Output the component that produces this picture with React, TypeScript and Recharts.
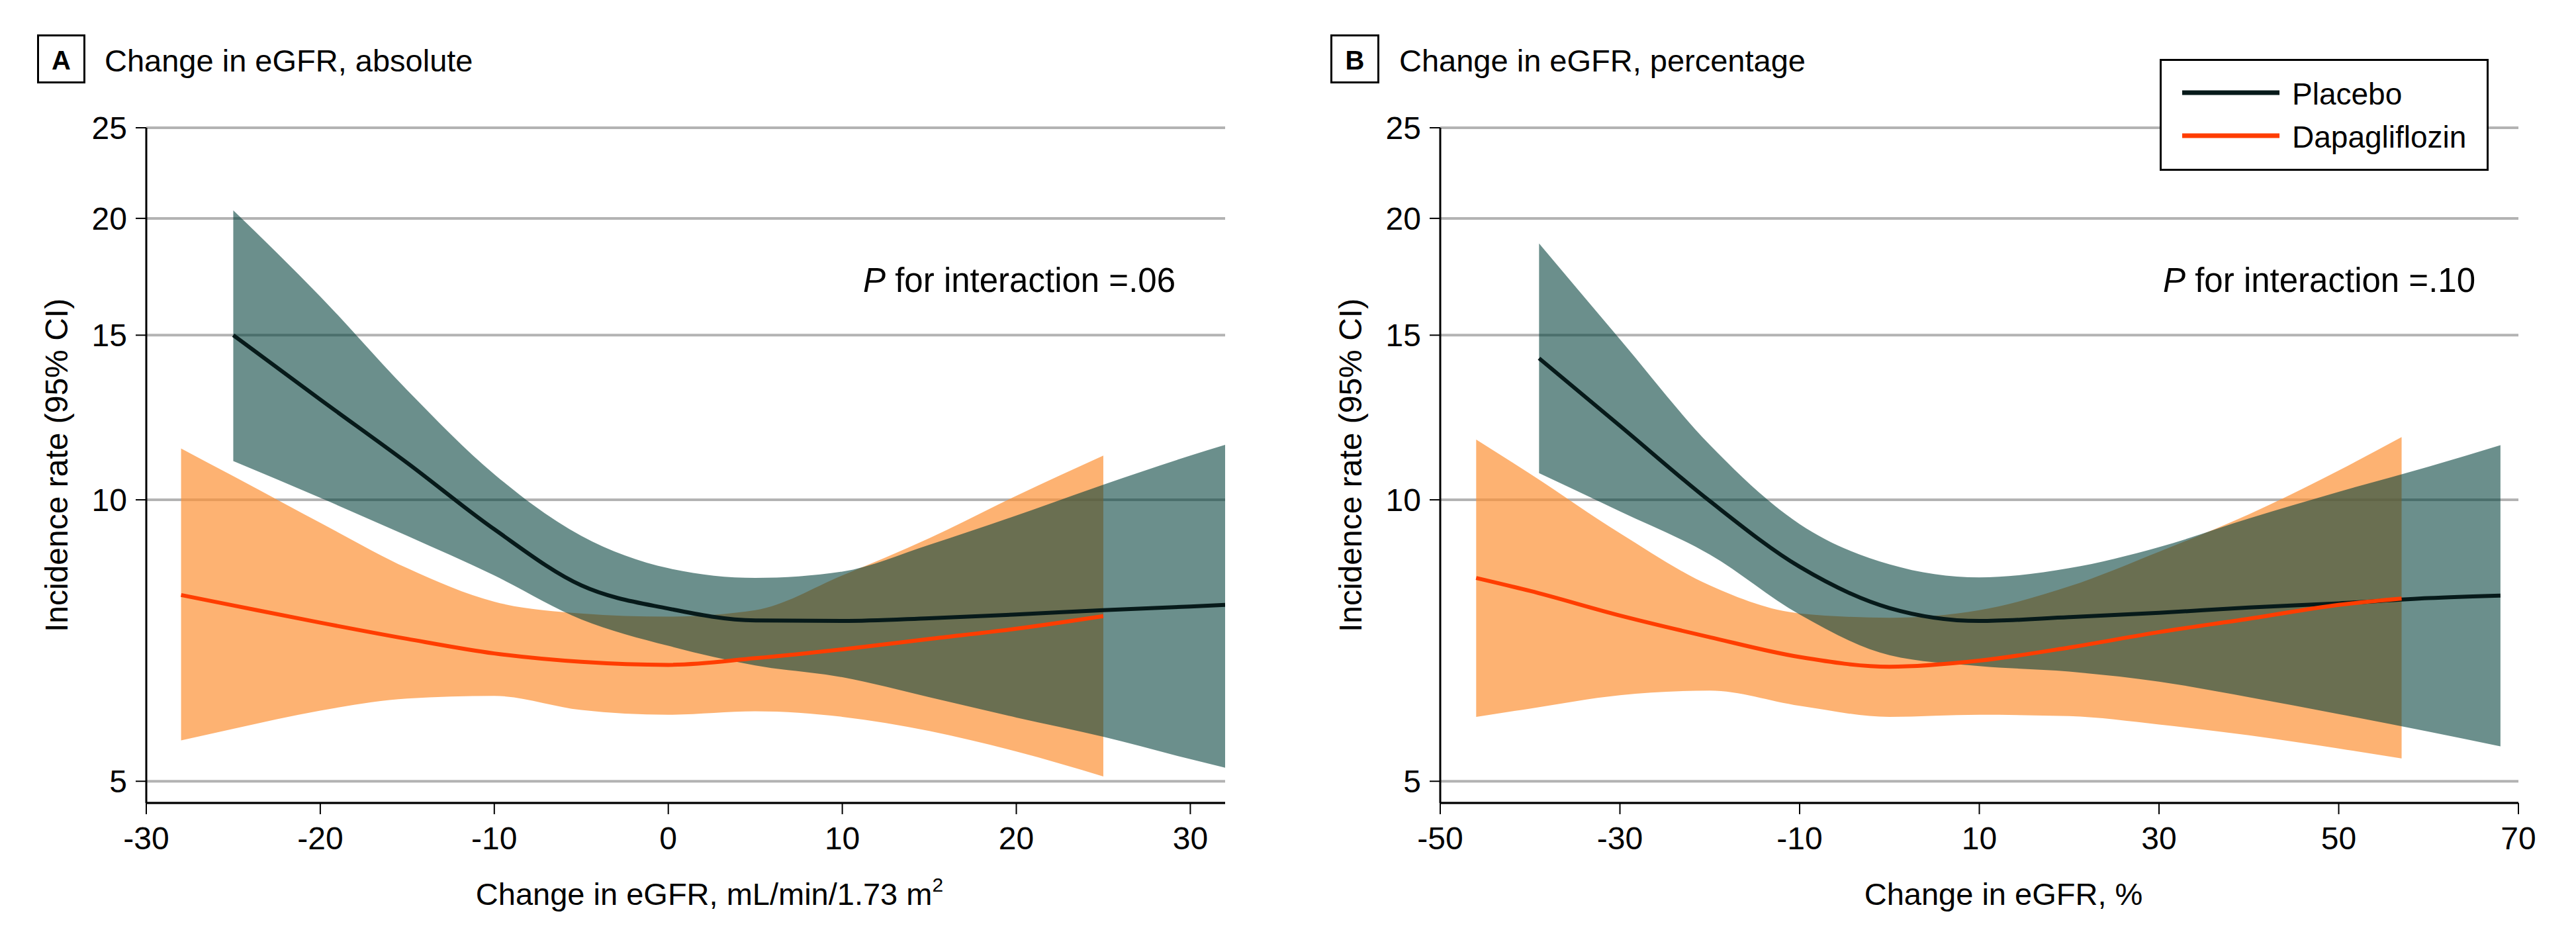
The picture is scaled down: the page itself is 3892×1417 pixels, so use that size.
import { ComposedChart, Area, Line, XAxis, YAxis, CartesianGrid } from "recharts";

// Panel A: change in eGFR, absolute (mL/min/1.73 m2)
const absPlaceboX = [-25, -20, -15, -10, -5, 0, 5, 10, 15, 20, 25, 30, 32];
const absPlaceboRate = [15.0, 12.8, 10.95, 9.3, 8.1, 7.65, 7.43, 7.42, 7.47, 7.54, 7.62, 7.69, 7.72];
const absPlaceboLow = [11.0, 10.05, 9.15, 8.3, 7.45, 6.98, 6.65, 6.46, 6.15, 5.85, 5.58, 5.28, 5.17];
const absPlaceboHigh = [20.4, 16.5, 13.1, 10.65, 9.15, 8.45, 8.25, 8.38, 8.95, 9.62, 10.38, 11.15, 11.45];

const absDapaX = [-28, -25, -20, -15, -10, -5, 0, 5, 10, 15, 20, 25];
const absDapaRate = [7.91, 7.71, 7.39, 7.1, 6.85, 6.71, 6.66, 6.77, 6.92, 7.1, 7.28, 7.51];
const absDapaLow = [5.53, 5.69, 5.95, 6.13, 6.17, 5.96, 5.89, 5.94, 5.86, 5.66, 5.38, 5.06];
const absDapaHigh = [11.35, 10.6, 9.45, 8.45, 7.78, 7.56, 7.5, 7.62, 8.3, 9.1, 10.1, 11.15];

// Panel B: change in eGFR, percentage
const pctPlaceboX = [-39, -30, -20, -10, 0, 10, 20, 30, 40, 50, 60, 68];
const pctPlaceboRate = [14.17, 12.0, 9.97, 8.48, 7.66, 7.42, 7.49, 7.57, 7.67, 7.75, 7.85, 7.9];
const pctPlaceboLow = [10.68, 9.72, 8.74, 7.54, 6.82, 6.64, 6.55, 6.39, 6.15, 5.9, 5.65, 5.45];
const pctPlaceboHigh = [18.8, 14.85, 11.45, 9.42, 8.53, 8.26, 8.45, 8.9, 9.55, 10.2, 10.85, 11.44];

const pctDapaX = [-46, -40, -30, -20, -10, 0, 10, 20, 30, 40, 50, 57];
const pctDapaRate = [8.25, 7.99, 7.52, 7.13, 6.79, 6.63, 6.73, 6.95, 7.22, 7.46, 7.72, 7.84];
const pctDapaLow = [5.86, 5.98, 6.18, 6.25, 6.02, 5.86, 5.89, 5.87, 5.75, 5.6, 5.42, 5.29];
const pctDapaHigh = [11.6, 10.66, 9.21, 8.1, 7.56, 7.48, 7.62, 8.08, 8.8, 9.65, 10.75, 11.67];

const yTicks = [5, 10, 15, 20, 25];
const absTicks = [-30, -20, -10, 0, 10, 20, 30];
const pctTicks = [-50, -30, -10, 10, 30, 50, 70];

const FONT = "'Liberation Sans', Arial, sans-serif";
const PLACEBO = "#071a1a";
const DAPA = "#ff3d00";

const rows = (xs: number[], est: number[], lo: number[], hi: number[]) =>
  xs.map((x, i) => ({ x, est: est[i], band: [lo[i], hi[i]] }));

function XLabel({ lx, ly, text, sup }: any) {
  return (
    <text x={lx} y={ly} textAnchor="middle" fontSize={47} fontFamily={FONT} fill="#000">
      {text}
      {sup && (
        <tspan dy={-20} fontSize={30}>
          {sup}
        </tspan>
      )}
    </text>
  );
}

function YLabel({ lx, ly }: any) {
  return (
    <text
      x={lx}
      y={ly}
      transform={`rotate(-90 ${lx} ${ly})`}
      textAnchor="middle"
      fontSize={48}
      fontFamily={FONT}
      fill="#000"
    >
      Incidence rate (95% CI)
    </text>
  );
}

function Panel({ left, yWidth, right, domain, ticks, placebo, dapa, xLabel, sup, xLabelX, yLabelX }: any) {
  const tick = { fontSize: 48, fill: "#000", fontFamily: FONT };
  return (
    <div style={{ position: "absolute", left, top: 0 }}>
      <ComposedChart width={1900} height={1417} margin={{ top: 193, right, bottom: 84, left: 0 }}>
        <CartesianGrid vertical={false} stroke="#b3b3b3" strokeWidth={4} />
        <XAxis
          type="number"
          dataKey="x"
          domain={domain}
          ticks={ticks}
          allowDataOverflow
          height={120}
          tickSize={17}
          tickMargin={19}
          tick={tick}
          axisLine={{ stroke: "#000", strokeWidth: 3 }}
          tickLine={{ stroke: "#000", strokeWidth: 2 }}
          label={<XLabel lx={xLabelX} ly={1367} text={xLabel} sup={sup} />}
        />
        <YAxis
          type="number"
          scale="log"
          domain={[4.74, 25]}
          ticks={yTicks}
          allowDataOverflow
          width={yWidth}
          tickSize={16}
          tickMargin={13}
          tick={tick}
          axisLine={{ stroke: "#000", strokeWidth: 3 }}
          tickLine={{ stroke: "#000", strokeWidth: 2 }}
          label={<YLabel lx={yLabelX} ly={703} />}
        />
        <Area
          data={dapa}
          dataKey="band"
          type="monotone"
          fill="rgb(252,145,54)"
          fillOpacity={0.7}
          stroke="none"
          isAnimationActive={false}
        />
        <Area
          data={placebo}
          dataKey="band"
          type="monotone"
          fill="rgb(0,62,57)"
          fillOpacity={0.58}
          stroke="none"
          isAnimationActive={false}
        />
        <Line
          data={placebo}
          dataKey="est"
          type="monotone"
          stroke={PLACEBO}
          strokeWidth={6}
          dot={false}
          activeDot={false}
          isAnimationActive={false}
        />
        <Line
          data={dapa}
          dataKey="est"
          type="monotone"
          stroke={DAPA}
          strokeWidth={6}
          dot={false}
          activeDot={false}
          isAnimationActive={false}
        />
      </ComposedChart>
    </div>
  );
}

export default function App() {
  return (
    <div style={{ position: "absolute", left: 0, top: 0, width: 3892, height: 1417, background: "#fff" }}>
      <Panel
        left={0}
        yWidth={221}
        right={49}
        domain={[-30, 32]}
        ticks={absTicks}
        placebo={rows(absPlaceboX, absPlaceboRate, absPlaceboLow, absPlaceboHigh)}
        dapa={rows(absDapaX, absDapaRate, absDapaLow, absDapaHigh)}
        xLabel="Change in eGFR, mL/min/1.73 m"
        sup="2"
        xLabelX={1072}
        yLabelX={102}
      />
      <Panel
        left={1950}
        yWidth={226}
        right={45}
        domain={[-50, 70]}
        ticks={pctTicks}
        placebo={rows(pctPlaceboX, pctPlaceboRate, pctPlaceboLow, pctPlaceboHigh)}
        dapa={rows(pctDapaX, pctDapaRate, pctDapaLow, pctDapaHigh)}
        xLabel="Change in eGFR, %"
        xLabelX={1077}
        yLabelX={107}
      />
      <svg
        width={3892}
        height={1417}
        style={{ position: "absolute", left: 0, top: 0, pointerEvents: "none" }}
        fontFamily={FONT}
      >
        <rect x={57.5} y={53.5} width={70} height={71} fill="none" stroke="#000" strokeWidth={3} />
        <text x={92.5} y={105} textAnchor="middle" fontSize={40} fontWeight="bold">A</text>
        <text x={158} y={108} fontSize={47}>Change in eGFR, absolute</text>
        <rect x={2011.5} y={53.5} width={71} height={71} fill="none" stroke="#000" strokeWidth={3} />
        <text x={2047} y={105} textAnchor="middle" fontSize={40} fontWeight="bold">B</text>
        <text x={2114} y={108} fontSize={47}>Change in eGFR, percentage</text>

        <text x={1304} y={441} fontSize={51}>
          <tspan fontStyle="italic">P</tspan> for interaction =.06
        </text>
        <text x={3268} y={441} fontSize={51}>
          <tspan fontStyle="italic">P</tspan> for interaction =.10
        </text>

        <rect x={3264.5} y={90.5} width={494} height={166} fill="#fff" stroke="#000" strokeWidth={3} />
        <line x1={3297} x2={3444} y1={140} y2={140} stroke={PLACEBO} strokeWidth={7} />
        <text x={3463} y={158} fontSize={46}>Placebo</text>
        <line x1={3297} x2={3444} y1={205} y2={205} stroke={DAPA} strokeWidth={7} />
        <text x={3463} y={223} fontSize={46}>Dapagliflozin</text>
      </svg>
    </div>
  );
}
